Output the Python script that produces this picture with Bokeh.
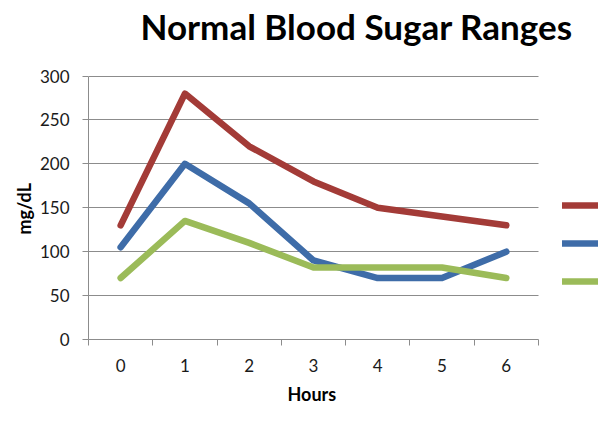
from bokeh.plotting import figure
from bokeh.models import FixedTicker, Legend, LegendItem, Range1d, Label, Title
from bokeh.embed import file_html
from bokeh.resources import INLINE

hours = [0, 1, 2, 3, 4, 5, 6]
upper = [130, 280, 220, 180, 150, 140, 130]
middle = [105, 200, 155, 90, 70, 70, 100]
lower = [70, 135, 110, 82, 82, 82, 70]
y_ticks = [0, 50, 100, 150, 200, 250, 300]
colors = ["#A33B37", "#3E6CA8", "#9BBB59"]

x_lo = hours[0] - 0.5
x_hi = hours[-1] + 0.5
y_lo = y_ticks[0]
y_hi = y_ticks[-1]

p = figure(width=599, height=410, output_backend="svg", toolbar_location=None,
           x_range=Range1d(x_lo, 7.45), y_range=Range1d(y_lo, 386),
           min_border_left=88, min_border_right=0, min_border_top=0, min_border_bottom=69)
p.outline_line_color = None
p.background_fill_color = "white"
p.border_fill_color = "white"

p.xgrid.visible = False
p.ygrid.grid_line_color = "#8C8C8C"
p.ygrid.grid_line_width = 1
p.ygrid.ticker = FixedTicker(ticks=y_ticks)
try:
    p.ygrid.cross_bounds = (x_lo, x_hi)
except Exception:
    pass

rs = []
for ys, c in zip([upper, middle, lower], colors):
    r = p.line(hours, ys, line_color=c, line_width=6.5, line_cap="round", line_join="round")
    rs.append(r)

xa = p.xaxis[0]
xa.bounds = (x_lo, x_hi)
xa.ticker = FixedTicker(ticks=hours, minor_ticks=[h - 0.5 for h in hours] + [x_hi])
xa.major_tick_out = 0
xa.major_tick_in = 0
xa.minor_tick_out = 6
xa.minor_tick_in = 0
xa.minor_tick_line_color = "#8C8C8C"
xa.axis_line_color = "#8C8C8C"
xa.major_label_text_font = "Lato"
xa.major_label_text_font_size = "17px"
xa.major_label_text_color = "#1a1a1a"
xa.major_label_standoff = 13

ya = p.yaxis[0]
ya.bounds = (y_lo, y_hi)
ya.ticker = FixedTicker(ticks=y_ticks, minor_ticks=[])
ya.major_tick_out = 6
ya.major_tick_in = 0
ya.major_tick_line_color = "#8C8C8C"
ya.axis_line_color = "#8C8C8C"
ya.major_label_text_font = "Lato"
ya.major_label_text_font_size = "17px"
ya.major_label_text_color = "#1a1a1a"
ya.major_label_standoff = 13

x_title = Title(text="Hours", align="left", offset=199, standoff=12,
                text_font="Lato", text_font_style="bold", text_font_size="18px",
                text_line_height=1.0, text_color="black")
p.add_layout(x_title, "below")

y_title = Title(text="mg/dL", align="left", offset=105, standoff=4,
                text_font="Lato", text_font_style="bold", text_font_size="18px",
                text_color="black")
p.add_layout(y_title, "left")

main_title = Label(text="Normal Blood Sugar Ranges", x=52, y=314,
                   x_units="screen", y_units="screen",
                   text_font="Lato", text_font_style="bold", text_font_size="35px",
                   text_color="black", text_baseline="alphabetic", text_align="left")
p.add_layout(main_title)

legend = Legend(items=[LegendItem(label=" ", renderers=[r]) for r in rs],
                location=(474, 48), orientation="vertical",
                glyph_width=36, glyph_height=20, label_height=20, label_width=0,
                label_standoff=0, spacing=18, padding=0, margin=0,
                border_line_color=None, background_fill_alpha=0,
                label_text_font_size="1px")
p.add_layout(legend, "center")

open("out.html", "w").write(file_html(p, INLINE))
